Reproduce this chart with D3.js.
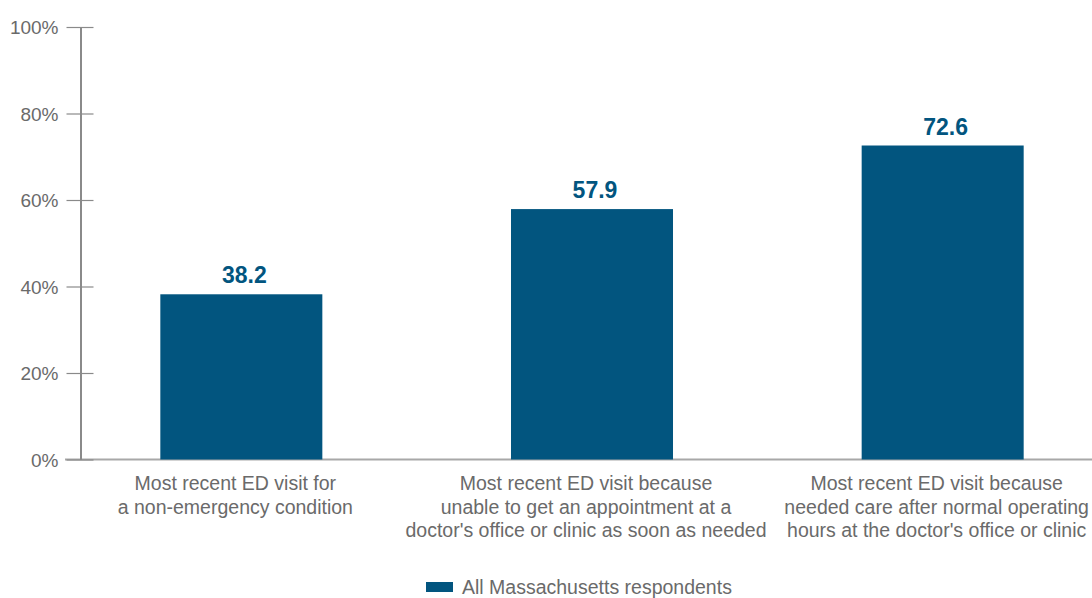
<!DOCTYPE html>
<html>
<head>
<meta charset="utf-8">
<script src="https://cdn.jsdelivr.net/npm/d3@7"></script>
<style>
  html, body { margin: 0; padding: 0; background: #fff; }
  svg { display: block; }
</style>
</head>
<body>
<svg id="chart" width="1092" height="598"></svg>
<script>
const categories = [
  ["Most recent ED visit for", "a non-emergency condition"],
  ["Most recent ED visit because", "unable to get an appointment at a", "doctor's office or clinic as soon as needed"],
  ["Most recent ED visit because", "needed care after normal operating", "hours at the doctor's office or clinic"]
];
const values = [38.2, 57.9, 72.6];
const yTicks = [0, 20, 40, 60, 80, 100];
const seriesName = "All Massachusetts respondents";

const barColor = "#02557f";
const textGray = "#6a6a6a";
const font = "'Liberation Sans', Arial, Helvetica, sans-serif";

const svg = d3.select("#chart");

const x = d3.scaleBand()
  .domain(d3.range(values.length))
  .range([66, 1118])
  .paddingInner(0.538)
  .paddingOuter(0.269);

const y = d3.scaleLinear().domain([0, 100]).range([459.5, 27]);

// baseline
svg.append("line")
  .attr("x1", 65).attr("x2", 1092)
  .attr("y1", y(0)).attr("y2", y(0))
  .attr("stroke", "#a8a8a8").attr("stroke-width", 2);

// y axis
const yAxis = d3.axisLeft(y)
  .tickValues(yTicks)
  .tickFormat(d => d + "%")
  .tickSize(0);
const gy = svg.append("g").attr("transform", "translate(80.5,0)").call(yAxis);
gy.select(".domain").attr("stroke", "#8a8a8a").attr("stroke-width", 2);
gy.selectAll(".tick line").remove();
gy.selectAll(".tick").append("line")
  .attr("x1", -14).attr("x2", 13)
  .attr("stroke", "#8a8a8a").attr("stroke-width", 1.2);
gy.selectAll(".tick text")
  .attr("x", -22)
  .attr("dy", "0.35em")
  .attr("fill", textGray)
  .style("font-family", font)
  .style("font-size", "19px");

// bars
svg.append("g").selectAll("rect")
  .data(values)
  .join("rect")
  .attr("x", (d, i) => x(i))
  .attr("width", x.bandwidth())
  .attr("y", d => y(d))
  .attr("height", d => y(0) - y(d))
  .attr("fill", barColor);

// value labels
svg.append("g").selectAll("text")
  .data(values)
  .join("text")
  .attr("x", (d, i) => x(i) + x.bandwidth() / 2 + 3)
  .attr("y", d => y(d) - 11)
  .attr("text-anchor", "middle")
  .attr("fill", barColor)
  .style("font-family", font)
  .style("font-weight", "bold")
  .style("font-size", "23px")
  .text(d => d.toFixed(1));

// category labels
const cat = svg.append("g").selectAll("text")
  .data(categories)
  .join("text")
  .attr("text-anchor", "middle")
  .attr("fill", textGray)
  .style("font-family", font)
  .style("font-size", "19.5px")
  .attr("transform", (d, i) => `translate(${x(i) + x.bandwidth() / 2 - 6},490)`);
cat.selectAll("tspan")
  .data(d => d)
  .join("tspan")
  .attr("x", 0)
  .attr("y", (d, j) => j * 23.5)
  .text(d => d);

// legend
const lg = svg.append("g").attr("transform", "translate(426,582)");
lg.append("rect").attr("width", 27).attr("height", 10).attr("fill", barColor);
lg.append("text")
  .attr("x", 36).attr("y", 5)
  .attr("dy", "0.35em")
  .attr("fill", textGray)
  .style("font-family", font)
  .style("font-size", "19.5px")
  .text(seriesName);
</script>
</body>
</html>
